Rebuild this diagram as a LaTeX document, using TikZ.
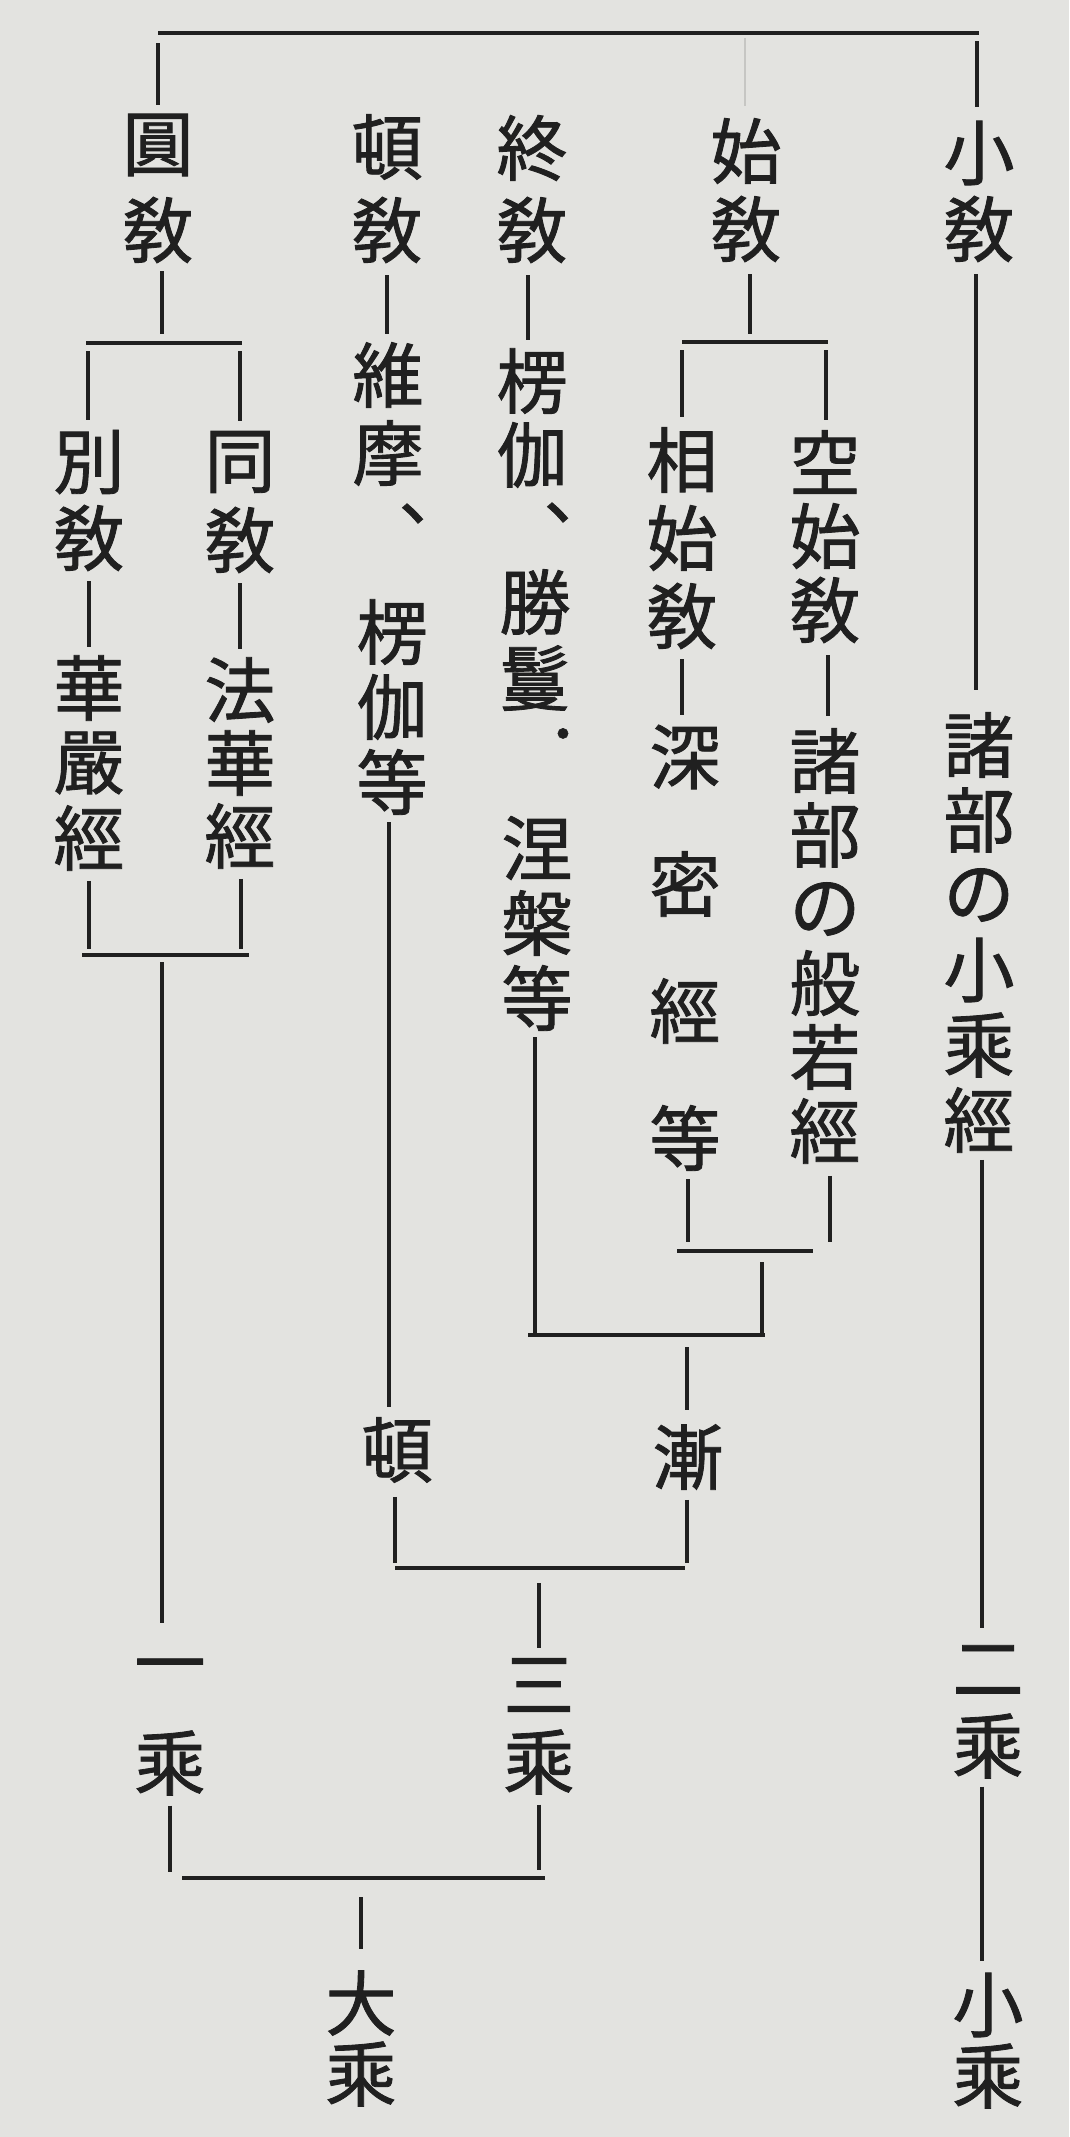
\documentclass[tikz,border=0pt]{standalone}
\usepackage{fontspec}
\usetikzlibrary{calc}
\newfontfamily\cjk[FakeBold=1.2]{Noto Sans CJK JP}
\definecolor{paper}{RGB}{227,227,224}
\definecolor{ink}{RGB}{32,32,32}
\definecolor{faintink}{RGB}{198,198,195}
\tikzset{
  ch/.style={font=\cjk\fontsize{71}{71}\selectfont, text=ink, inner sep=0pt},
  dotch/.style={font=\cjk\fontsize{48}{48}\selectfont, text=ink, inner sep=0pt},
  ln/.style={draw=ink, line width=3.1pt},
  barln/.style={draw=ink, line width=4.8pt},
  faint/.style={draw=faintink, line width=1.6pt},
}
\newcommand\vword[5]{%
  \foreach \c [count=\i] in {#5}{%
    \node[ch] (#1-\i) at (#2, {#3+(\i-1)*#4}) {\c};}}
\begin{document}
\begin{tikzpicture}[x=1pt,y=-1pt]
\fill[paper] (0,0) rectangle (1069,2137);
\useasboundingbox (0,0) rectangle (1069,2137);

% ---------- text ----------
\vword{xj}{979}{153}{76}{小,敎}
\vword{sj}{746}{151}{78}{始,敎}
\vword{zj}{532}{148}{82}{終,敎}
\vword{dj}{387}{147}{83}{頓,敎}
\vword{yj}{158}{145}{85}{圓,敎}

\vword{bj}{89}{462}{76}{別,敎}
\vword{tj}{240}{462}{78}{同,敎}
\vword{hy}{89}{688}{75}{華,嚴,經}
\vword{fh}{240}{690}{73}{法,華,經}

\vword{wm}{388}{375}{78}{維,摩}
\node[ch] (wmc) at (391,533) {︑};
\vword{lqa}{392}{632}{75}{楞,伽,等}

\vword{lqb}{532}{381}{74}{楞,伽}
\node[ch] (lqbc) at (536,532) {︑};
\vword{sm}{535}{602}{76}{勝,鬘}
\node[dotch] (smd) at (563,740) {・};
\vword{np}{537}{848}{75}{涅,槃,等}

\vword{xs}{682}{460}{78}{相,始,敎}
\vword{sm4}{685}{757}{127}{深,密,經,等}
\vword{ks}{825}{462}{74}{空,始,敎}
\vword{bb}{825}{761}{74}{諸,部,の,般,若,經}
\vword{xc}{979}{745}{75}{諸,部,の,小,乘,經}

\node[ch] (dun) at (397,1450) {頓};
\node[ch] (jian) at (688,1457) {漸};
\vword{yc}{170}{1674}{89}{一,乘}
\vword{sc}{539}{1685}{77}{三,乘}
\vword{ec}{988}{1670}{76}{二,乘}
\vword{dc}{361}{2003}{71}{大,乘}
\vword{xsc}{988}{2005}{71}{小,乘}

% ---------- junction points ----------
\coordinate (tL) at (158,33);
\coordinate (tR) at (979,33);
\coordinate (tM) at (745,33);
\coordinate (b1L) at (86,343);  \coordinate (b1R) at (242,343);  \coordinate (b1M) at (162,343);
\coordinate (b2L) at (82,955);  \coordinate (b2R) at (249,955);  \coordinate (b2M) at (162,955);
\coordinate (b3L) at (182,1878); \coordinate (b3R) at (545,1878); \coordinate (b3M) at (361,1878);
\coordinate (b4L) at (395,1568); \coordinate (b4R) at (685,1568); \coordinate (b4M) at (539,1568);
\coordinate (b5L) at (528,1335); \coordinate (b5R) at (765,1335); \coordinate (b5M) at (687,1335);
\coordinate (b6L) at (677,1251); \coordinate (b6R) at (813,1251);
\coordinate (b7L) at (682,342);  \coordinate (b7R) at (828,342);  \coordinate (b7M) at (750,342);
\coordinate (hk) at (762,1262);

% ---------- bars ----------
\draw[barln] (tL) -- (tR);
\draw[barln] (b1L) -- (b1R);
\draw[barln] (b2L) -- (b2R);
\draw[barln] (b3L) -- (b3R);
\draw[barln] (b4L) -- (b4R);
\draw[barln] (b5L) -- (b5R);
\draw[barln] (b6L) -- (b6R);
\draw[barln] (b7L) -- (b7R);

% ---------- top level ----------
\draw[ln] ($(tL)+(0,10)$) -- ($(tL |- yj-1.north)+(0,-9)$);
\draw[ln] ($(tR)+(-2,8)$) -- ($(tR |- xj-1.north)+(-2,-14)$);
\draw[faint] ($(tM)+(0,5)$) -- ($(tM |- sj-1.north)+(0,-12)$);

% ---------- 圓敎 ----------
\draw[ln] ($(yj-2.south -| b1M)+(0,8)$) -- ($(b1M)+(0,-9)$);
\draw[ln] ($(b1L)+(2,8)$) -- ($(b1L |- bj-1.north)+(2,-10)$);
\draw[ln] ($(b1R)+(-2,8)$) -- ($(b1R |- tj-1.north)+(-2,-10)$);
\draw[ln] ($(bj-2.south)+(0,10)$) -- ($(hy-1.north)+(0,-8)$);
\draw[ln] ($(tj-2.south)+(0,10)$) -- ($(fh-1.north)+(0,-8)$);
\draw[ln] ($(hy-3.south)+(0,10)$) -- ($(hy-3.south |- b2L)+(0,-6)$);
\draw[ln] ($(fh-3.south)+(1,10)$) -- ($(fh-3.south |- b2R)+(1,-6)$);
\draw[ln] ($(b2M)+(0,7)$) -- ($(b2M |- yc-1.north)+(0,-36)$);
\draw[ln] ($(yc-2.south)+(0,10)$) -- ($(yc-2.south |- b3L)+(0,-6)$);
\draw[ln] ($(b3M)+(0,19)$) -- ($(b3M |- dc-1.north)+(0,-21)$);

% ---------- 頓敎 ----------
\draw[ln] ($(dj-2.south)+(0,12)$) -- ($(dj-2.south |- wm-1.north)+(0,-8)$);
\draw[ln] ($(lqa-3.south)+(-3,7)$) -- ($(lqa-3.south |- dun.north)+(-3,-10)$);
\draw[ln] ($(dun.south)+(-2,14)$) -- ($(dun.south |- b4L)+(-2,-5)$);
\draw[ln] ($(b4M)+(0,15)$) -- ($(b4M |- sc-1.north)+(0,-10)$);
\draw[ln] ($(sc-2.south)+(0,10)$) -- ($(sc-2.south |- b3R)+(0,-8)$);

% ---------- 終敎 ----------
\draw[ln] ($(zj-2.south)+(-4,12)$) -- ($(zj-2.south |- lqb-1.north)+(-4,-8)$);
\draw[ln] ($(np-3.south)+(-2,6)$) -- ($(np-3.south |- b5L)+(-2,0)$);
\draw[ln] (hk) -- (hk |- b5R);
\draw[ln] ($(b5M)+(0,12)$) -- ($(b5M |- jian.north)+(0,-14)$);
\draw[ln] ($(jian.south)+(-1,10)$) -- ($(jian.south |- b4R)+(-1,-5)$);

% ---------- 始敎 ----------
\draw[ln] ($(sj-2.south)+(4,12)$) -- ($(b7M)+(0,-8)$);
\draw[ln] ($(b7L)+(0,8)$) -- ($(b7L |- xs-1.north)+(0,-10)$);
\draw[ln] ($(b7R)+(-2,8)$) -- ($(b7R |- ks-1.north)+(-2,-10)$);
\draw[ln] ($(xs-3.south)+(0,10)$) -- ($(xs-3.south |- sm4-1.north)+(0,-10)$);
\draw[ln] ($(ks-3.south)+(3,12)$) -- ($(ks-3.south |- bb-1.north)+(3,-12)$);
\draw[ln] ($(sm4-4.south)+(3,8)$) -- ($(sm4-4.south |- b6L)+(3,-9)$);
\draw[ln] ($(bb-6.south)+(5,12)$) -- ($(bb-6.south |- b6R)+(5,-9)$);

% ---------- 小敎 ----------
\draw[ln] ($(xj-2.south)+(-3,12)$) -- ($(xj-2.south |- xc-1.north)+(-3,-22)$);
\draw[ln] ($(xc-6.south)+(3,7)$) -- ($(xc-6.south |- ec-1.north)+(3,-17)$);
\draw[ln] ($(ec-2.south)+(-6,8)$) -- ($(ec-2.south |- xsc-1.north)+(-6,-12)$);
\end{tikzpicture}
\end{document}
